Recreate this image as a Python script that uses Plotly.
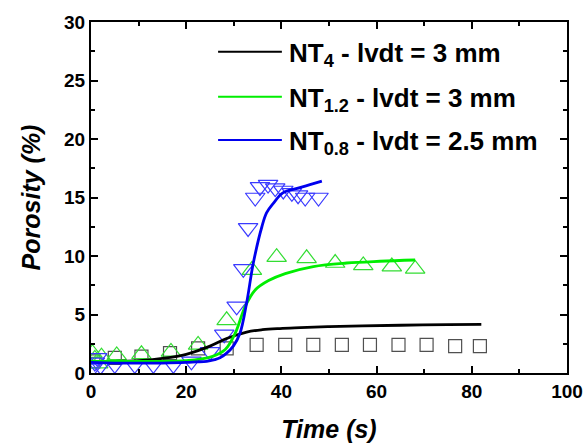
import plotly.graph_objects as go

# ---- data ----
sq_t = [0.5, 5, 10.6, 16.6, 22.5, 28.5, 34.8, 40.8, 46.7, 52.7, 58.6, 64.6, 70.5, 76.5, 81.7]
sq_v = [1.0, 1.3, 1.4, 1.7, 2.1, 2.1, 2.4, 2.4, 2.4, 2.4, 2.4, 2.4, 2.4, 2.3, 2.3]

up_t = [0.3, 0.8, 1.5, 2.2, 5.4, 10.6, 16.8, 22.5, 28.5, 33.8, 39.0, 45.3, 51.3, 57.2, 63.2, 68.1]
up_v = [1.7, 1.2, 0.8, 1.4, 1.5, 1.6, 1.8, 2.4, 4.5, 8.8, 9.9, 9.8, 9.4, 9.2, 9.1, 8.9]

dn_t = [0.3, 0.8, 1.3, 2.0, 5.0, 9.2, 13.1, 17.3, 21.1, 25.0, 28.0, 30.6, 32.0, 33.0,
        34.5, 35.5, 37.2, 38.7, 40.4, 42.2, 43.5, 45.0, 47.8]
dn_v = [0.4, 0.9, 1.3, 0.6, 0.7, 0.7, 0.7, 0.7, 1.0, 1.8, 3.3, 5.7, 8.9, 12.4,
        15.0, 15.9, 16.1, 15.8, 15.6, 15.4, 15.2, 15.0, 15.0]

blk_t = [0, 5, 10, 15, 20, 25, 28.5, 32.7, 36, 39.7, 44, 50, 57, 65, 75, 82]
blk_v = [0.97, 1.0, 1.05, 1.25, 1.6, 2.3, 2.95, 3.5, 3.7, 3.8, 3.87, 3.96, 4.03, 4.08, 4.14, 4.15]

grn_t = [0, 10, 20, 25.4, 28.2, 30.3, 32.4, 34.5, 37.3, 40.8, 46.7, 53.7, 60.7, 68.1]
grn_v = [1.0, 1.0, 1.05, 1.4, 2.0, 3.4, 5.7, 7.1, 7.9, 8.5, 9.1, 9.4, 9.55, 9.66]

blu_t = [0, 5, 10, 15, 20, 22, 24.3, 26, 27.1, 28.5, 29.9, 31.3, 32.7, 34.1, 35.9,
         36.9, 38.3, 40.3, 43.5, 46, 48.5]
blu_v = [0.9, 0.85, 0.85, 0.85, 0.9, 0.95, 1.0, 1.15, 1.3, 1.7, 2.3, 3.4, 6.0, 9.4, 12.5,
         13.7, 14.5, 15.4, 15.8, 16.1, 16.4]

names = ["NT<sub>4</sub> - lvdt = 3 mm",
         "NT<sub>1.2</sub> - lvdt = 3 mm",
         "NT<sub>0.8</sub> - lvdt = 2.5 mm"]
line_colors = ["black", "#00ee00", "#0000ee"]

FONT = "Liberation Sans, Arial, sans-serif"

fig = go.Figure()
fig.add_trace(go.Scatter(x=sq_t, y=sq_v, mode="markers", showlegend=False,
                         marker=dict(symbol="square-open", size=13, color="#505050",
                                     line=dict(width=1.2))))
fig.add_trace(go.Scatter(x=up_t, y=up_v, mode="markers", showlegend=False,
                         marker=dict(symbol="triangle-up-open", size=17, color="#33dd33",
                                     line=dict(width=1.2))))
fig.add_trace(go.Scatter(x=dn_t, y=dn_v, mode="markers", showlegend=False,
                         marker=dict(symbol="triangle-down-open", size=17, color="#3a3aff",
                                     line=dict(width=1.2))))
for t, v, nm, c in [(blk_t, blk_v, names[0], line_colors[0]),
                    (grn_t, grn_v, names[1], line_colors[1]),
                    (blu_t, blu_v, names[2], line_colors[2])]:
    fig.add_trace(go.Scatter(x=t, y=v, mode="lines", name=nm, showlegend=False,
                             line=dict(color=c, width=2.8, shape="spline")))

# custom legend (key lines + text) in paper coordinates
leg_rows_y = [0.915, 0.787, 0.664]
for y, nm, c in zip(leg_rows_y, names, line_colors):
    fig.add_shape(type="line", xref="paper", yref="paper", x0=0.267, x1=0.401, y0=y, y1=y,
                  line=dict(color=c, width=2))
    fig.add_annotation(xref="paper", yref="paper", x=0.412, y=y, xanchor="left", yanchor="middle",
                       yshift=-3, text=nm, showarrow=False,
                       font=dict(family=FONT, size=26, color="black", weight="bold"))

tickfont = dict(family=FONT, size=19, color="black", weight="bold")
common = dict(showline=True, linecolor="black", linewidth=2, mirror="allticks",
              ticks="inside", ticklen=7, tickwidth=2, tickcolor="black",
              showgrid=False, zeroline=False, automargin=False, tickfont=tickfont)

fig.update_xaxes(range=[0, 100], dtick=20, **common,
                 minor=dict(ticks="inside", ticklen=4, tickwidth=2, tickcolor="black", dtick=10),
                 title=dict(text="Time (s)", standoff=20,
                            font=dict(family=FONT, size=25, color="black", weight="bold", style="italic")))
fig.update_yaxes(range=[0, 30], dtick=5, **common,
                 minor=dict(ticks="inside", ticklen=4, tickwidth=2, tickcolor="black", dtick=2.5),
                 title=dict(text="Porosity (%)", standoff=16,
                            font=dict(family=FONT, size=25, color="black", weight="bold", style="italic")))

fig.update_layout(
    width=585, height=443,
    margin=dict(l=91, r=18, t=22, b=70),
    paper_bgcolor="white", plot_bgcolor="white",
    showlegend=False,
)

fig.write_html("out.html", config={"displayModeBar": False},
               post_script="document.body.style.margin='0';document.body.style.overflow='hidden';")
